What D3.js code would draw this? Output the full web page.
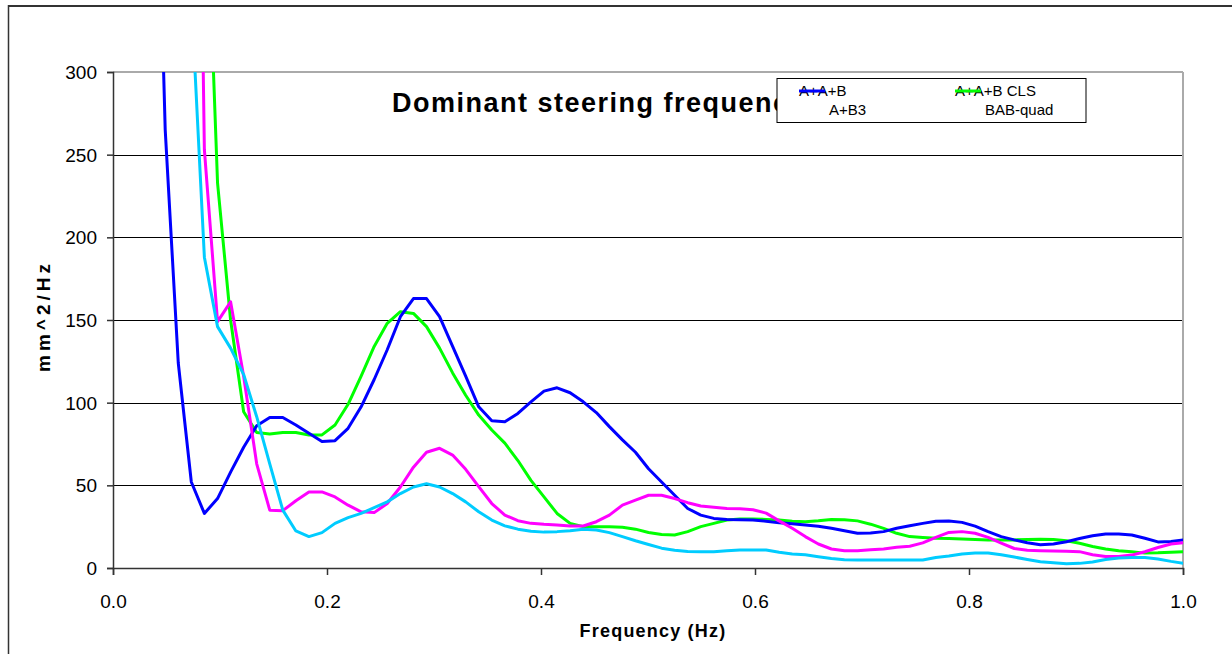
<!DOCTYPE html>
<html><head><meta charset="utf-8">
<script src="https://cdn.jsdelivr.net/npm/d3@7/dist/d3.min.js"></script>
<style>body{margin:0;background:#fff;}svg{display:block;font-family:"Liberation Sans",Arial,sans-serif;}</style>
</head><body>
<svg id="c" width="1232" height="654"></svg>
<script>
const freq = [0,0.0122,0.0244,0.0366,0.0488,0.0610,0.0732,0.0854,0.0977,0.1099,0.1221,0.1343,0.1465,0.1587,0.1709,0.1831,0.1953,0.2075,0.2197,0.2319,0.2441,0.2563,0.2686,0.2808,0.2930,0.3052,0.3174,0.3296,0.3418,0.3540,0.3662,0.3784,0.3906,0.4028,0.4150,0.4272,0.4395,0.4517,0.4639,0.4761,0.4883,0.5005,0.5127,0.5249,0.5371,0.5493,0.5615,0.5737,0.5859,0.5981,0.6104,0.6226,0.6348,0.6470,0.6592,0.6714,0.6836,0.6958,0.7080,0.7202,0.7324,0.7446,0.7568,0.7690,0.7812,0.7935,0.8057,0.8179,0.8301,0.8423,0.8545,0.8667,0.8789,0.8911,0.9033,0.9155,0.9277,0.9399,0.9521,0.9644,0.9766,0.9888,1.0010];
const seriesNames = ["A+A+B","A+B3","A+A+B CLS","BAB-quad"];
const aab = [3000,2000,1100,550,265,124,52,33,42,58,73,86,91,91,86.5,81.5,76.5,77,84.5,97.5,114,132,152,163,163,152,134,116,97.5,89,88.5,93.5,100.5,107,109,106,100.5,94,85.5,77.5,70,60,52,44,36,32,30,29.4,29.2,29,28.3,27.3,26.8,26,25.3,24,22.5,21,21.2,22,24,25.5,27,28.3,28.4,27.6,25.3,22,19,17,15.3,14,14.5,15.9,17.8,19.5,20.6,20.6,20,18,15.8,16,17];
const ab3 = [5000,4000,3000,2200,1600,1100,800,253,149,161,116,63,35,34.7,40.7,46,46,43,38,34,33.5,39,49,61,70,72.4,68.3,59.7,49.2,39,32,28.6,27,26.4,26,25.4,25.4,28,32,38,41,44,44,42,39.5,37.5,36.8,36,35.8,35.2,33.2,28.5,24,19,14.5,11.5,10.5,10.4,11,11.5,12.5,13.2,15.2,18.5,21.5,22,21,18.5,15,11.8,10.8,10.5,10.3,10.1,9.9,8,7,7,7.8,9.8,12.4,14.5,15.3];
const aabCls = [5000,3500,2500,1800,1300,1000,750,450,233,150,94.5,82,81,82,82,80.5,80.5,86.5,99,116,134,148,155,154,146,133,118,104.5,92.5,83.5,75.5,65,53,43,33,27,25,25,25,24.6,23.5,21.5,20.3,20,22,25,27,29,29.6,29.6,29.4,29,28.3,28,28.6,29.4,29.2,28.5,26.5,24,21,19,18.5,18,17.8,17.5,17.3,17,17,17,17.2,17.4,17.2,16.5,15,13,11.5,10.5,9.8,9,9.2,9.6,9.9];
const babQuad = [5000,3500,2500,1600,1000,600,345,188,146,133,117,91.5,63,35,22.4,19,21.4,27,30.5,33,36.5,40,45,49,51,49,45,40,34,29,25.5,23.5,22.2,21.7,22,22.6,23.4,23,21.4,19,16.5,14.2,12,10.8,10,9.9,9.9,10.5,10.9,10.9,10.9,9.5,8.5,8,6.8,5.7,5,4.8,4.8,4.8,4.8,4.8,4.8,6.4,7.2,8.5,9.1,9.1,8,6.6,5.2,3.8,3.2,2.6,2.8,3.6,5.1,6.1,6.4,6.3,5.4,4,2.8];
const yTicks = [0,50,100,150,200,250,300];
const xTicks = [0,0.2,0.4,0.6,0.8,1.0];
const colors = ["#0000ff","#ff00ff","#00ff00","#00ccff"];

const svg = d3.select("#c");
const L=113,R=1183,T=72,B=568;
const x = d3.scaleLinear().domain([0,1]).range([L,R]);
const y = d3.scaleLinear().domain([0,300]).range([B,T]);

// outer frame
svg.append("line").attr("x1",8).attr("x2",1232).attr("y1",6).attr("y2",6).attr("stroke","#333").attr("stroke-width",2);
svg.append("line").attr("x1",8.5).attr("x2",8.5).attr("y1",5).attr("y2",654).attr("stroke","#333").attr("stroke-width",1.5);

// gridlines
svg.append("g").selectAll("line").data(yTicks.filter(d=>d>0&&d<300)).join("line")
  .attr("x1",L).attr("x2",R).attr("y1",d=>Math.round(y(d))+0.5).attr("y2",d=>Math.round(y(d))+0.5)
  .attr("stroke","#000").attr("stroke-width",1);
svg.append("line").attr("x1",L).attr("x2",R).attr("y1",T).attr("y2",T).attr("stroke","#aaa").attr("stroke-width",2);
svg.append("line").attr("x1",R).attr("x2",R).attr("y1",T).attr("y2",B).attr("stroke","#aaa").attr("stroke-width",2);

// axes
const yAxis = svg.append("g").attr("transform",`translate(${L},0)`)
  .call(d3.axisLeft(y).tickValues(yTicks).tickSize(6).tickPadding(10));
const xAxis = svg.append("g").attr("transform",`translate(0,${B})`)
  .call(d3.axisBottom(x).tickValues(xTicks).tickSize(7).tickPadding(20).tickFormat(d3.format(".1f")));
[yAxis,xAxis].forEach(a=>{
  a.select(".domain").attr("stroke","#333").attr("stroke-width",1.5);
  a.selectAll(".tick line").attr("stroke","#333").attr("stroke-width",1.5);
  a.selectAll(".tick text").attr("fill","#000").style("font-size","19px").style("font-family","Liberation Sans, Arial, sans-serif");
});
yAxis.selectAll(".tick text").attr("dy","0.35em");

// clip
svg.append("clipPath").attr("id","clip").append("rect").attr("x",L).attr("y",T).attr("width",R-L).attr("height",B-T);
const line = d3.line().x((d,i)=>x(freq[i])).y(d=>y(d));
const allSeries = [aab,ab3,aabCls,babQuad];
const drawOrder = [2,0,1,3];
const gL = svg.append("g").attr("clip-path","url(#clip)");
drawOrder.forEach(s=>{
  gL.append("path").datum(allSeries[s]).attr("d",line).attr("fill","none")
    .attr("stroke",colors[s]).attr("stroke-width",3).attr("stroke-linejoin","round");
});

// title
svg.append("text").attr("x",392).attr("y",112).text("Dominant steering frequency")
  .style("font-size","27px").style("font-weight","bold").style("letter-spacing","1.5px").attr("fill","#000");

// legend
const lg = svg.append("g");
lg.append("rect").attr("x",777).attr("y",78.5).attr("width",309).attr("height",44).attr("fill","#fff").attr("stroke","#000").attr("stroke-width",1);
const legendPos = [[799,96,true],[829,115,false],[955,96,true],[985,115,false]];
seriesNames.forEach((n,i)=>{
  const p = legendPos[i];
  lg.append("text").attr("x",p[0]).attr("y",p[1]).text(n).style("font-size","15px").attr("fill","#000");
  if(p[2]) lg.append("line").attr("x1",p[0]).attr("x2",p[0]+26).attr("y1",91).attr("y2",91).attr("stroke",colors[i]).attr("stroke-width",3);
});

// axis titles
svg.append("text").attr("x",653).attr("y",637).attr("text-anchor","middle").text("Frequency (Hz)")
  .style("font-size","18px").style("font-weight","bold").style("letter-spacing","1.2px").attr("fill","#000");
svg.append("text").attr("transform","translate(50,316) rotate(-90)").attr("text-anchor","middle").text("mm^2/Hz")
  .style("font-size","19px").style("font-weight","bold").style("letter-spacing","4px").attr("fill","#000");
</script>
</body></html>
